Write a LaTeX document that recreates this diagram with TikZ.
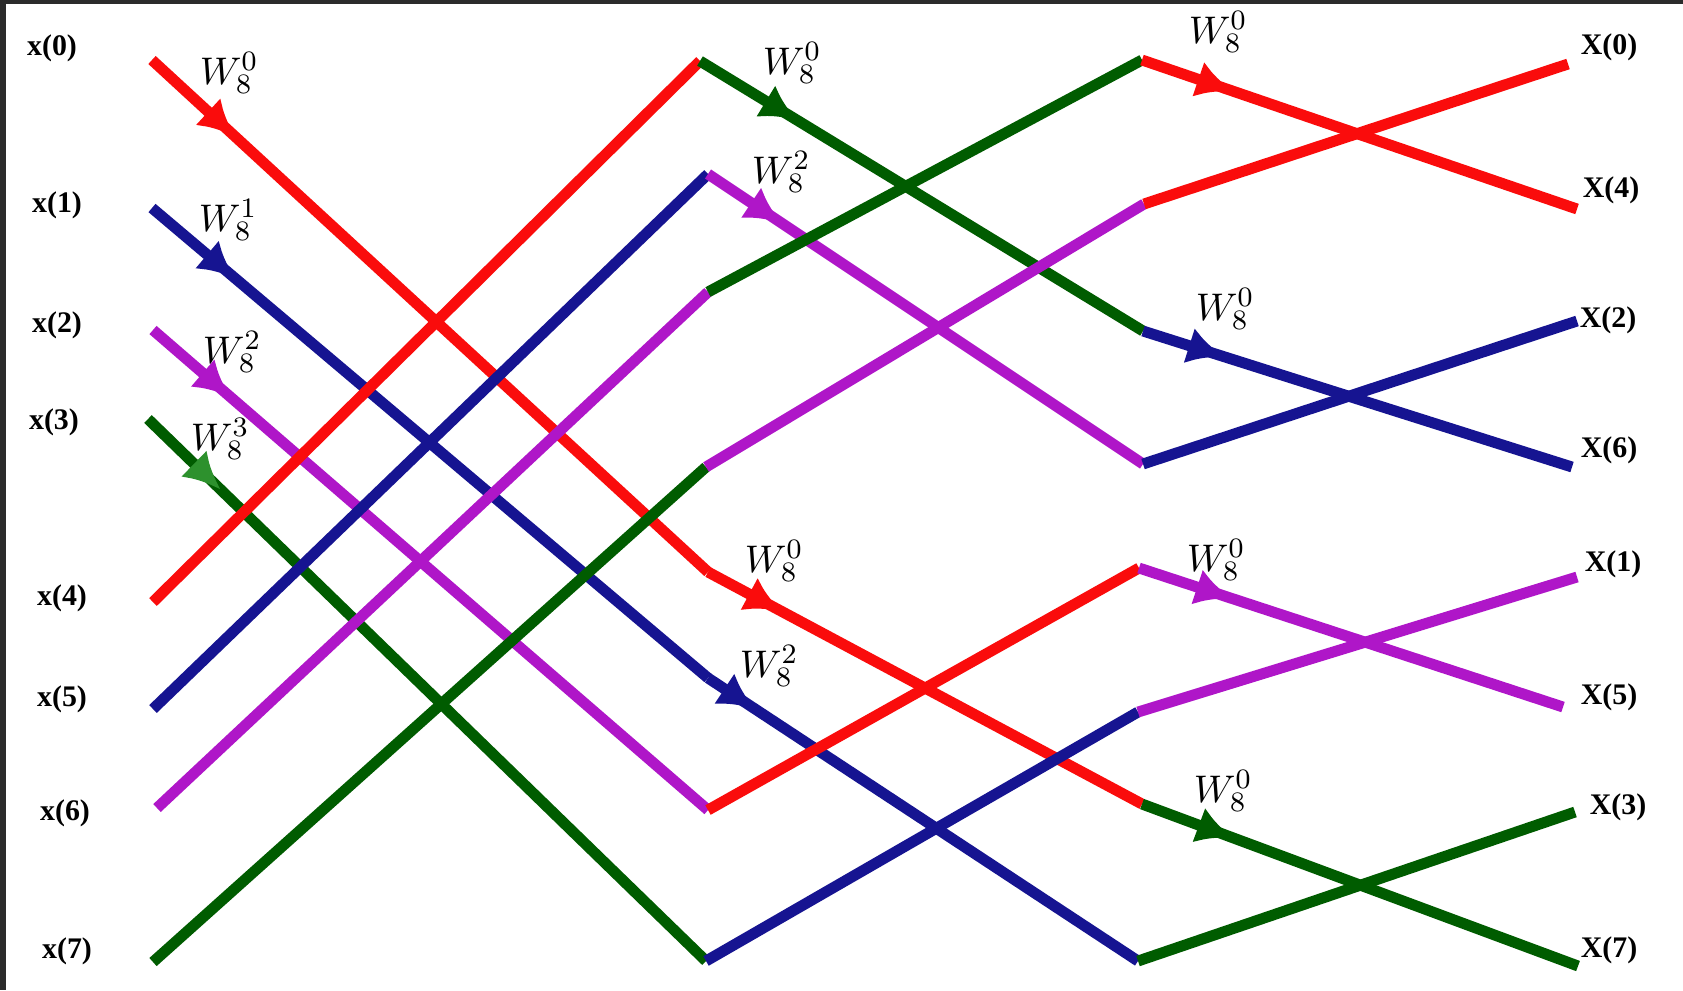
\documentclass[tikz,border=0pt]{standalone}
\usepackage{fontspec}
\setmainfont{Liberation Serif}
\usepackage{tikz}
\usepackage{xcolor}
\usetikzlibrary{arrows.meta,decorations.markings}
\definecolor{FlowRed}{RGB}{250,12,12}
\definecolor{FlowBlue}{RGB}{22,20,145}
\definecolor{FlowPurple}{RGB}{175,22,200}
\definecolor{FlowGreen}{RGB}{0,92,0}
\definecolor{TipGreen}{RGB}{45,145,45}
\definecolor{FrameGray}{RGB}{43,43,43}

\begin{document}
\begin{tikzpicture}[x=0.01cm, y=-0.01cm, line width=3.1pt,
  every node/.style={font=\fontsize{8.5}{10}\selectfont\bfseries, inner sep=1pt},
  twf/.style={font=\fontsize{11}{13}\selectfont},
  mid/.style={postaction={decorate}, decoration={markings, mark=at position #1 with {\arrow{Latex[length=10.5pt,width=10.5pt]}}}},
  midg/.style={postaction={decorate}, decoration={markings, mark=at position #1 with {\arrow[TipGreen]{Latex[length=10.5pt,width=10.5pt]}}}}]
\useasboundingbox (0,0) rectangle (1683,990);
\fill[FrameGray] (0,0) rectangle (1683,990);
\fill[white] (6,4) rectangle (1683,990);

% input points
\coordinate (x0) at (152,60);
\coordinate (x1) at (152,208);
\coordinate (x2) at (153,330);
\coordinate (x3) at (148,419);
\coordinate (x4) at (153,602);
\coordinate (x5) at (153,709);
\coordinate (x6) at (157,808);
\coordinate (x7) at (153,962);
% first stage
\coordinate (a0) at (700,61);
\coordinate (a1) at (708,174);
\coordinate (a2) at (708,292);
\coordinate (a3) at (706,467);
\coordinate (a4) at (708,572);
\coordinate (a5) at (708,678);
\coordinate (a6) at (708,810);
\coordinate (a7) at (706,961);
% second stage
\coordinate (b0) at (1142,60);
\coordinate (b1) at (1144,204);
\coordinate (b2) at (1143,331);
\coordinate (b3) at (1143,464);
\coordinate (b4) at (1139,568);
\coordinate (b5) at (1138,712);
\coordinate (b6) at (1142,804);
\coordinate (b7) at (1138,961);
% outputs
\coordinate (X0) at (1568,64);
\coordinate (X4) at (1577,209);
\coordinate (X2) at (1577,321);
\coordinate (X6) at (1572,467);
\coordinate (X1) at (1577,577);
\coordinate (X5) at (1563,707);
\coordinate (X3) at (1575,812);
\coordinate (X7) at (1578,966);

\node (lx0) at (52,48) {x(0)};
\node (lx1) at (57,205) {x(1)};
\node (lx2) at (57,325) {x(2)};
\node (lx3) at (54,422) {x(3)};
\node (lx4) at (62,598) {x(4)};
\node (lx5) at (62,699) {x(5)};
\node (lx6) at (65,813) {x(6)};
\node (lx7) at (67,951) {x(7)};

\node (lX0) at (1609,47) {X(0)};
\node (lX4) at (1611,190) {X(4)};
\node (lX2) at (1608,320) {X(2)};
\node (lX6) at (1609,450) {X(6)};
\node (lX1) at (1613,564) {X(1)};
\node (lX5) at (1609,697) {X(5)};
\node (lX3) at (1618,807) {X(3)};
\node (lX7) at (1609,950) {X(7)};

\node[twf] (w0) at (229,73) {$W_8^0$};
\node[twf] (w1) at (228,220) {$W_8^1$};
\node[twf] (w2) at (232,352) {$W_8^2$};
\node[twf] (w3) at (220,439) {$W_8^3$};
\node[twf] (v0) at (792,63) {$W_8^0$};
\node[twf] (v2) at (781,172) {$W_8^2$};
\node[twf] (v4) at (774,561) {$W_8^0$};
\node[twf] (v6) at (769,666) {$W_8^2$};
\node[twf] (u0) at (1218,32) {$W_8^0$};
\node[twf] (u2) at (1225,309) {$W_8^0$};
\node[twf] (u4) at (1216,560) {$W_8^0$};
\node[twf] (u6) at (1223,791) {$W_8^0$};

% stage one
\draw[FlowRed, mid=0.15] (x0) -- (a4);
\draw[FlowBlue, mid=0.15] (x1) -- (a5);
\draw[FlowPurple, mid=0.14] (x2) -- (a6);
\draw[FlowGreen, midg=0.13] (x3) -- (a7);
\draw[FlowRed] (x4) -- (a0);
\draw[FlowBlue] (x5) -- (a1);
\draw[FlowPurple] (x6) -- (a2);
\draw[FlowGreen] (x7) -- (a3);

% stage two
\draw[FlowGreen, mid=0.22] (a0) -- (b2);
\draw[FlowPurple, mid=0.17] (a1) -- (b3);
\draw[FlowGreen] (a2) -- (b0);
\draw[FlowPurple] (a3) -- (b1);
\draw[FlowRed, mid=0.17] (a4) -- (b6);
\draw[FlowBlue, mid=0.11] (a5) -- (b7);
\draw[FlowRed] (a6) -- (b4);
\draw[FlowBlue] (a7) -- (b5);

% stage three
\draw[FlowRed, mid=0.21] (b0) -- (X4);
\draw[FlowRed] (b1) -- (X0);
\draw[FlowBlue, mid=0.19] (b2) -- (X6);
\draw[FlowBlue] (b3) -- (X2);
\draw[FlowPurple, mid=0.22] (b4) -- (X5);
\draw[FlowPurple] (b5) -- (X1);
\draw[FlowGreen, mid=0.21] (b6) -- (X7);
\draw[FlowGreen] (b7) -- (X3);
\end{tikzpicture}
\end{document}
